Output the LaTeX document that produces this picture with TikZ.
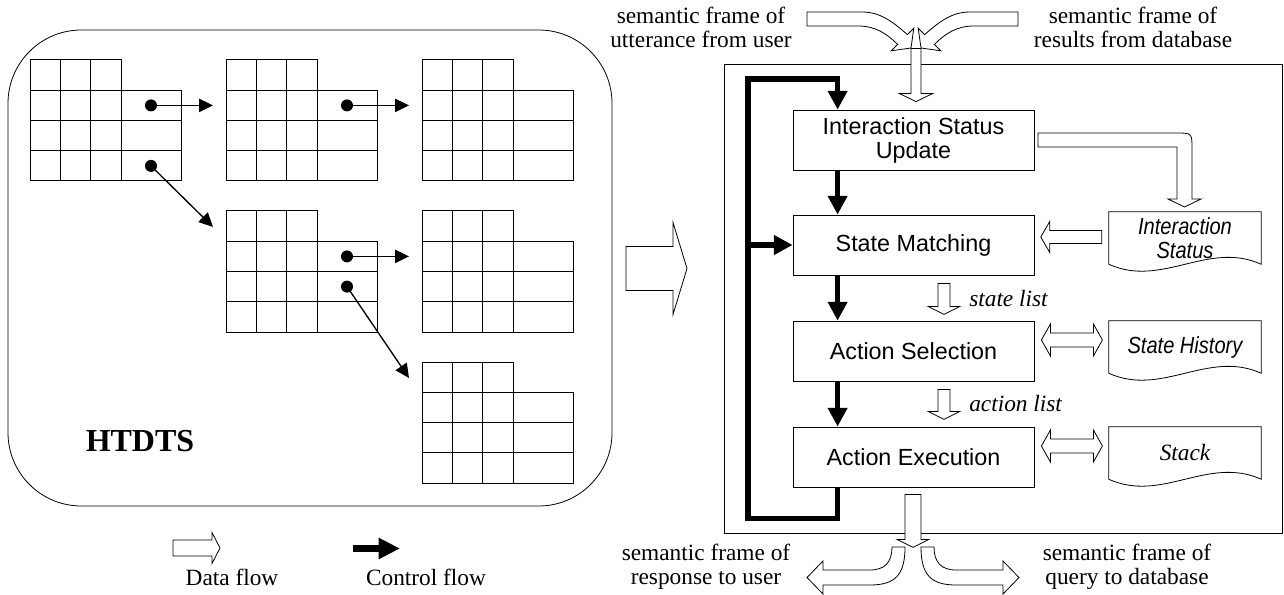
\documentclass[tikz,border=0pt]{standalone}
\usepackage{fontspec}
\setmainfont{Liberation Serif}
\setsansfont{Liberation Sans}
\newfontfamily\docfont[FakeStretch=0.86]{Liberation Sans}
\usetikzlibrary{arrows.meta,calc}

\tikzset{
  grid/.style={line width=0.75pt},
  ptr/.style={line width=1pt,-{Triangle[length=10.5pt,width=10pt]}},
  ctrl/.style={line width=4.2pt,-{Triangle[length=14pt,width=14pt]}},
  dline/.style={draw,fill=white,line width=0.6pt},
  proc/.style={draw,line width=0.6pt,minimum width=180.75pt,minimum height=45pt,align=center,
    font=\sffamily\fontsize{17.5}{18}\selectfont},
  doc/.style={minimum width=114pt,minimum height=39pt,inner sep=0pt,align=center,
    font=\docfont\itshape\fontsize{17.5}{18}\selectfont},
  lab/.style={align=center,inner sep=0pt,font=\fontsize{17.5}{18}\selectfont},
  pics/htable/.style={code={
    \draw[grid] (0,0) rectangle (91,121);
    \draw[grid] (91,30.25) rectangle (151,121);
    \foreach \c in {30,60.5} {\draw[grid] (\c,0) -- (\c,121);}
    \foreach \r in {30.25,60.5,90.75} {\draw[grid] (0,\r) -- (151,\r);}
    \coordinate (-a) at (121,45.4);
    \coordinate (-b) at (121,75.6);
    \coordinate (-c) at (121,105.9);
    \coordinate (-in) at (-13,16);
    \coordinate (-ia) at (-13,45.4);
  }},
  pics/hollow/.style n args={4}{code={
    \draw[dline] (0,-#2) -- ({#1-#4},-#2) -- ({#1-#4},-#3) -- (#1,0) -- ({#1-#4},#3) -- ({#1-#4},#2) -- (0,#2) -- cycle;
  }},
  pics/hollowtwo/.style n args={4}{code={
    \draw[dline] (0,0) -- (#4,-#3) -- (#4,-#2) -- ({#1-#4},-#2) -- ({#1-#4},-#3) -- (#1,0)
      -- ({#1-#4},#3) -- ({#1-#4},#2) -- (#4,#2) -- (#4,#3) -- cycle;
  }},
}

\begin{document}
\begin{tikzpicture}[x=0.75pt,y=-0.75pt]
\useasboundingbox (0,0) rectangle (1284,595);

% HTDTS links
\draw[line width=0.6pt,rounded corners=55pt] (8,30) rectangle (612,506);
\pic (t1) at (30,60) {htable};
\pic (t2) at (226,60) {htable};
\pic (t3) at (422,60) {htable};
\pic (t4) at (226,211) {htable};
\pic (t5) at (422,211) {htable};
\pic (t6) at (422,362) {htable};
\foreach \p in {t1-a,t1-c,t2-a,t4-a,t4-b} \fill (\p) circle (4.5pt);
\draw[ptr] (t1-a) -- (t2-ia);
\draw[ptr] (t2-a) -- (t3-ia);
\draw[ptr] (t1-c) -- (t4-in);
\draw[ptr] (t4-a) -- (t5-ia);
\draw[ptr] (t4-b) -- (t6-in);
\node[font=\bfseries\fontsize{24}{24}\selectfont] (htdts) at (140,441) {HTDTS};

% Legende
\pic at (173,548) {hollow={47}{8}{15.5}{8}};
\draw[line width=5pt,-{Triangle[length=16pt,width=15pt]}] (353,548.5) -- (400,548.5);
\node[lab] (dflab) at (232,577) {Data flow};
\node[lab] (cflab) at (426,577) {Control flow};

% grosser Pfeil
\pic at (626,268.5) {hollow={61}{22}{46}{14}};

% Ablauf rechts
\draw[line width=0.6pt] (724,64) rectangle (1282.5,533);
\node[proc] (isu) at (913.5,140) {Interaction Status\\Update};
\node[proc] (sm) at (913.5,245) {State Matching};
\node[proc] (as) at (913.5,351) {Action Selection};
\node[proc] (ae) at (913.5,457) {Action Execution};

\node[doc] (istat) at (1185,238) {Interaction\\Status};
\node[doc] (shist) at (1185,347) {State History};
\node[doc,font=\rmfamily\itshape\fontsize{17.5}{18}\selectfont] (stack) at (1185,453) {Stack};
\foreach \d in {istat,shist,stack}
  \draw[line width=0.6pt] (\d.south west) -- (\d.north west) -- (\d.north east) -- (\d.south east)
    .. controls ($(\d.south east)!.35!(\d.south west)+(0,-24)$) and ($(\d.south east)!.65!(\d.south west)+(0,24)$) .. (\d.south west);

% Kontrollfluss
\coordinate (lt) at (748,79);
\draw[ctrl] ([xshift=33.75pt]isu.south west) -- ([xshift=33.75pt]sm.north west);
\draw[ctrl] ([xshift=33.75pt]sm.south west) -- ([xshift=33.75pt]as.north west);
\draw[ctrl] ([xshift=33.75pt]as.south west) -- ([xshift=33.75pt]ae.north west);
\draw[ctrl] ([xshift=33.75pt]ae.south west) -- ++(0,31) -| (lt) -| ([xshift=33.75pt]isu.north west);
\draw[ctrl] (lt |- sm.west) -- (sm.west);

% Datenfluss
\pic[rotate=-90] at ($(isu.north)+(2.5,-61)$) {hollow={53}{5}{16.5}{8}};
\draw[dline] (807,12) -- (862,12) .. controls (882,12) and (895,24) .. (907.4,34.6) -- (913.8,28.2) -- (911,48)
  -- (891.2,50.8) -- (897.6,44.4) .. controls (886,33) and (875,26) .. (858,26) -- (807,26) -- cycle;
\draw[dline] (1018,12) -- (970,12) .. controls (950,12) and (937,24) .. (924.6,34.6) -- (918.2,28.2) -- (921,48)
  -- (940.8,50.8) -- (934.4,44.4) .. controls (946,33) and (957,26) .. (974,26) -- (1018,26) -- cycle;
\draw[dline] (1038,133) -- (1176,133) .. controls (1192,133) .. (1192,149) -- (1192,199) -- (1201,199) -- (1184.5,207)
  -- (1168,199) -- (1177,199) -- (1177,147) -- (1038,147) -- cycle;
\pic[rotate=180] at ($(istat.west)+(-7,-1)$) {hollow={61}{6.5}{15.5}{9}};
\pic at ($(as.east)+(7,-11)$) {hollowtwo={61}{7}{16}{9}};
\pic at ($(ae.east)+(7,-11)$) {hollowtwo={61}{7}{16}{9}};
\pic[rotate=-90] at ($(sm.south)+(30.5,8)$) {hollow={31}{6}{16}{8}};
\pic[rotate=-90] at ($(as.south)+(30.5,8)$) {hollow={30}{6}{16}{8}};
\pic[rotate=-90] at ($(ae.south)+(-0.5,7)$) {hollow={53}{8}{16}{8}};
\draw[dline] (892,547) -- (905,547) .. controls (905,575) and (895,585) .. (870,585) -- (823,585) -- (823,594)
  -- (807,577.5) -- (823,561) -- (823,570) -- (870,570) .. controls (885,570) and (892,562) .. (892,547) -- cycle;
\draw[dline] (934,547) -- (921,547) .. controls (921,575) and (931,585) .. (956,585) -- (1003,585) -- (1003,594)
  -- (1019,577.5) -- (1003,561) -- (1003,570) -- (956,570) .. controls (941,570) and (934,562) .. (934,547) -- cycle;

\node[lab,anchor=base west,font=\itshape\fontsize{17.5}{18}\selectfont] (slist) at (969,306) {state list};
\node[lab,anchor=base west,font=\itshape\fontsize{17.5}{18}\selectfont] (alist) at (969,411) {action list};

\node[lab] (inuser) at (701,27) {semantic frame of\\utterance from user};
\node[lab] (indb) at (1133,27) {semantic frame of\\results from database};
\node[lab] (outuser) at (706,567) {semantic frame of\\response to user};
\node[lab] (outdb) at (1127,567) {semantic frame of\\query to database};
\end{tikzpicture}
\end{document}
